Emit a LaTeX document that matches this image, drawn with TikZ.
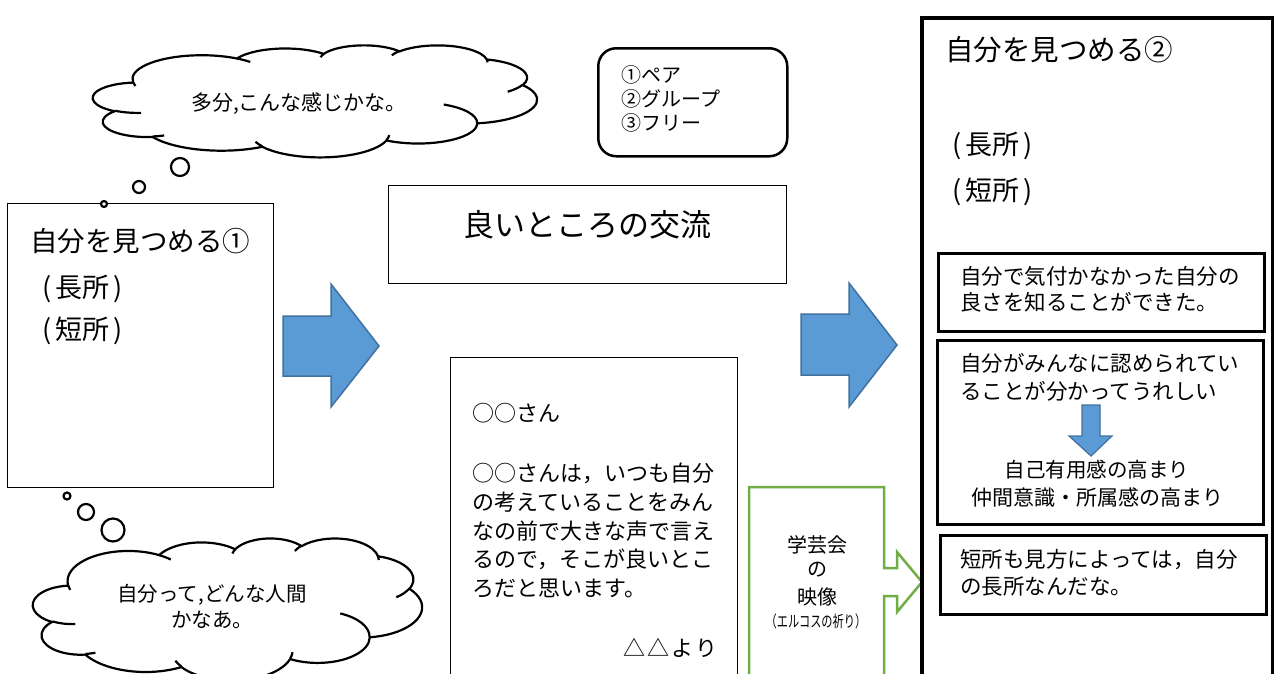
\documentclass[tikz,border=0pt]{standalone}
\usepackage{fontspec}
\setmainfont{Noto Sans CJK JP}
\usepackage{graphicx}
\definecolor{arrowblue}{HTML}{5B9BD5}
\definecolor{arrowedge}{HTML}{41719C}
\definecolor{leafgreen}{HTML}{70AD47}
\newcommand\fsz[2]{\fontsize{#1}{#2}\selectfont}
\newcommand\oarc[4]{\pgfextra{%
  \pgfmathparse{atan2((#1)*sin(#3),(#2)*cos(#3))}\xdef\ophis{\pgfmathresult}%
  \pgfmathparse{atan2((#1)*sin((#3)+(#4)),(#2)*cos((#3)+(#4)))}\xdef\ophie{\pgfmathresult}%
  \pgfmathparse{mod(\ophie-(\ophis)+720,360)}\xdef\odphi{\pgfmathresult}}%
  arc[start angle=\ophis, delta angle=\odphi, x radius=#1, y radius=#2]}
\newcommand\officecloud[4]{%
  \pgfmathsetmacro\ocx{#3/4320}%
  \pgfmathsetmacro\ocy{#4/4320}%
  \begin{scope}[shift={(#1,#2)}, x=\ocx pt, y=-\ocy pt]
    \draw[cloudline, fill=white] (390,1437)
      \oarc{675.3}{919.0}{-190.487483}{123.780533}
      \oarc{533.3}{726.7}{-144.102383}{89.945233}
      \oarc{436.5}{594.5}{-145.807917}{99.723017}
      \oarc{485.7}{659.5}{-130.986067}{117.241733}
      \oarc{533.3}{727.3}{-78.708883}{109.026917}
      \oarc{677.5}{922.0}{-46.26725}{130.269}
      \oarc{578.5}{786.7}{0.625017}{114.033333}
      \oarc{675.2}{921.5}{22.4516}{115.17255}
      \oarc{772.0}{1054.3}{66.242633}{75.711017}
      \oarc{436.0}{591.8}{-274.942083}{146.735567}
      \oarc{434.5}{594.5}{-246.8285}{152.51885}
      -- cycle;
    \draw[cloudline]
      (469.3,2617.7) \oarc{434.5}{594.5}{86.742}{26.4295}
      (692.8,3489.9) \oarc{436.0}{591.8}{73.610467}{11.447467}
      (1647.8,3909.0) \oarc{675.2}{921.5}{137.62415}{14.0811}
      (2882.7,3475.1) \oarc{675.2}{921.5}{6.453267}{15.99835}
      (3412.9,2295.4) \oarc{578.5}{786.7}{-70.29235}{70.917367}
      (4179.8,1535.4) \oarc{533.3}{727.3}{30.318033}{27.7515}
      (3832.4,542.6) \oarc{485.7}{659.5}{-13.744333}{14.8589}
      (2907.8,395.2) \oarc{485.7}{659.5}{-149.18145}{18.195367}
      (2214.1,472.0) \oarc{436.5}{594.5}{-163.494267}{17.68635}
      (1400.0,519.2) \oarc{675.3}{919.0}{-66.70695}{12.31935}
      (412.7,1578.9) \oarc{675.3}{919.0}{157.65435}{11.858167};
  \end{scope}}
\begin{document}
\begin{tikzpicture}[x=1pt, y=-1pt,
  cloudline/.style={line width=2.2pt, line join=round},
  thinbox/.style={draw, line width=1.3pt, inner sep=0pt, anchor=north west},
  heavybox/.style={draw, line width=2.8pt, inner sep=0pt, anchor=north west},
  txt/.style={inner sep=0pt, anchor=west, align=left},
  ctxt/.style={inner sep=0pt, align=center},
  bluearrow/.style={fill=arrowblue, draw=arrowedge, line width=1.5pt, line join=miter},
  bubble/.style={cloudline, fill=white}]
\useasboundingbox (0,0) rectangle (1274,673);
\clip (0,0) rectangle (1274,673);

% left box
\node[thinbox, minimum width=266, minimum height=284] (lbox) at (7,203) {};
\node[txt, font=\fsz{27.5}{27.5}] (ltitle) at (30,241) {自分を見つめる①};
\node[txt, font=\fsz{27}{27}] (lgood) at (42,289) {(\kern4pt長所\kern4pt)};
\node[txt, font=\fsz{27}{27}] (lbad) at (42,331) {(\kern4pt短所\kern4pt)};

% top cloud
\officecloud{93}{45}{444}{112}
\node[ctxt, font=\fsz{21}{21}] (tcloud) at (299,104) {多分,こんな感じかな。};
\node[bubble, circle, draw, minimum size=18, inner sep=0pt] (tc1) at (180,167) {};
\node[bubble, circle, draw, minimum size=12, inner sep=0pt] (tc2) at (139,187) {};
\node[bubble, circle, draw, minimum size=6, inner sep=0pt] (tc3) at (104,204) {};

% bottom cloud
\node[bubble, circle, draw, minimum size=7, inner sep=0pt] (bc1) at (67,496) {};
\node[bubble, circle, draw, minimum size=16, inner sep=0pt] (bc2) at (86,512) {};
\node[bubble, circle, draw, minimum size=23, inner sep=0pt] (bc3) at (113,530) {};
\officecloud{33}{538}{389}{142}
\node[ctxt, font=\fsz{20.5}{26}] (bcloud) at (212,606) {自分って,どんな人間\\かなあ。};

% blue arrows
\draw[bluearrow] (283,316) -- (331,316) -- (331,284) -- (379,346) -- (331,407) -- (331,376) -- (283,376) -- cycle;
\draw[bluearrow] (801,314) -- (849,314) -- (849,283) -- (897,345) -- (849,407) -- (849,375) -- (801,375) -- cycle;

% middle
\node[thinbox, line width=2.5pt, rounded corners=18, minimum width=189, minimum height=108] (mode) at (597,47) {};
\node[txt, font=\fsz{20}{24}] (modetxt) at (621,99) {①ペア\\②グループ\\③フリー};
\node[thinbox, line width=1.2pt, minimum width=398, minimum height=98] (tbox) at (388,185) {};
\node[ctxt, font=\fsz{31}{31}] (ttxt) at (587,225) {良いところの交流};

\node[thinbox, minimum width=287, minimum height=340] (mbox) at (450,357) {};
\node[txt, font=\fsz{22}{22}] (mname) at (472,413) {○○さん};
\node[txt, font=\fsz{22}{28.75}] (mbody) at (472,530.5) {○○さんは，いつも自分\\の考えていることをみん\\なの前で大きな声で言え\\るので，そこが良いとこ\\ろだと思います。};
\node[txt, font=\fsz{22}{22}] (mfrom) at (623,648) {△\kern2pt△\kern2ptよ\kern2ptり};

% green arrow callout
\draw[leafgreen, line width=2.5pt, fill=white] (749,700) -- (749,487) -- (884,487) -- (884,568) -- (897,568) -- (897,552) -- (922,582) -- (897,612) -- (897,596) -- (884,596) -- (884,700);
\node[ctxt, font=\fsz{20}{20}] (g1) at (817,545) {学芸会};
\node[ctxt, font=\fsz{20}{20}] (g2) at (817,570) {の};
\node[ctxt, font=\fsz{20}{20}] (g3) at (817,597) {映像};
\node[ctxt, font=\fsz{16}{16}] (g4) at (816,621) {\scalebox{0.7}[1]{（エルコスの祈り）}};

% right big box
\node[thinbox, line width=3.6pt, minimum width=351, minimum height=720] (rbox) at (920,16) {};
\node[txt, font=\fsz{28.5}{28.5}] (rtitle) at (945,50) {自分を見つめる②};
\node[txt, font=\fsz{27}{27}] (rgood) at (952,146) {(\kern4pt長所\kern4pt)};
\node[txt, font=\fsz{27}{27}] (rbad) at (952,192) {(\kern4pt短所\kern4pt)};

\node[heavybox, minimum width=326, minimum height=78] (i1) at (937,252) {};
\node[txt, font=\fsz{21.5}{26}] (i1t) at (960,289) {自分で気付かなかった自分の\\良さを知ることができた。};
\node[heavybox, minimum width=326, minimum height=184] (i2) at (936,339) {};
\node[txt, font=\fsz{21.5}{28}] (i2t) at (960,377) {自分がみんなに認められてい\\ることが分かってうれしい};
\draw[bluearrow, line width=1.2pt] (1082,405) -- (1100,405) -- (1100,436) -- (1112,436) -- (1091,456) -- (1069,436) -- (1082,436) -- cycle;
\node[ctxt, font=\fsz{20.5}{20.5}] (i2a) at (1097,470) {自己有用感の高まり};
\node[ctxt, font=\fsz{21}{21}] (i2b) at (1097,497) {仲間意識・所属感の高まり};
\node[heavybox, minimum width=326, minimum height=79] (i3) at (939,534) {};
\node[txt, font=\fsz{21.5}{27}] (i3t) at (960,572.5) {短所も見方によっては，自分\\の長所なんだな。};
\end{tikzpicture}
\end{document}
